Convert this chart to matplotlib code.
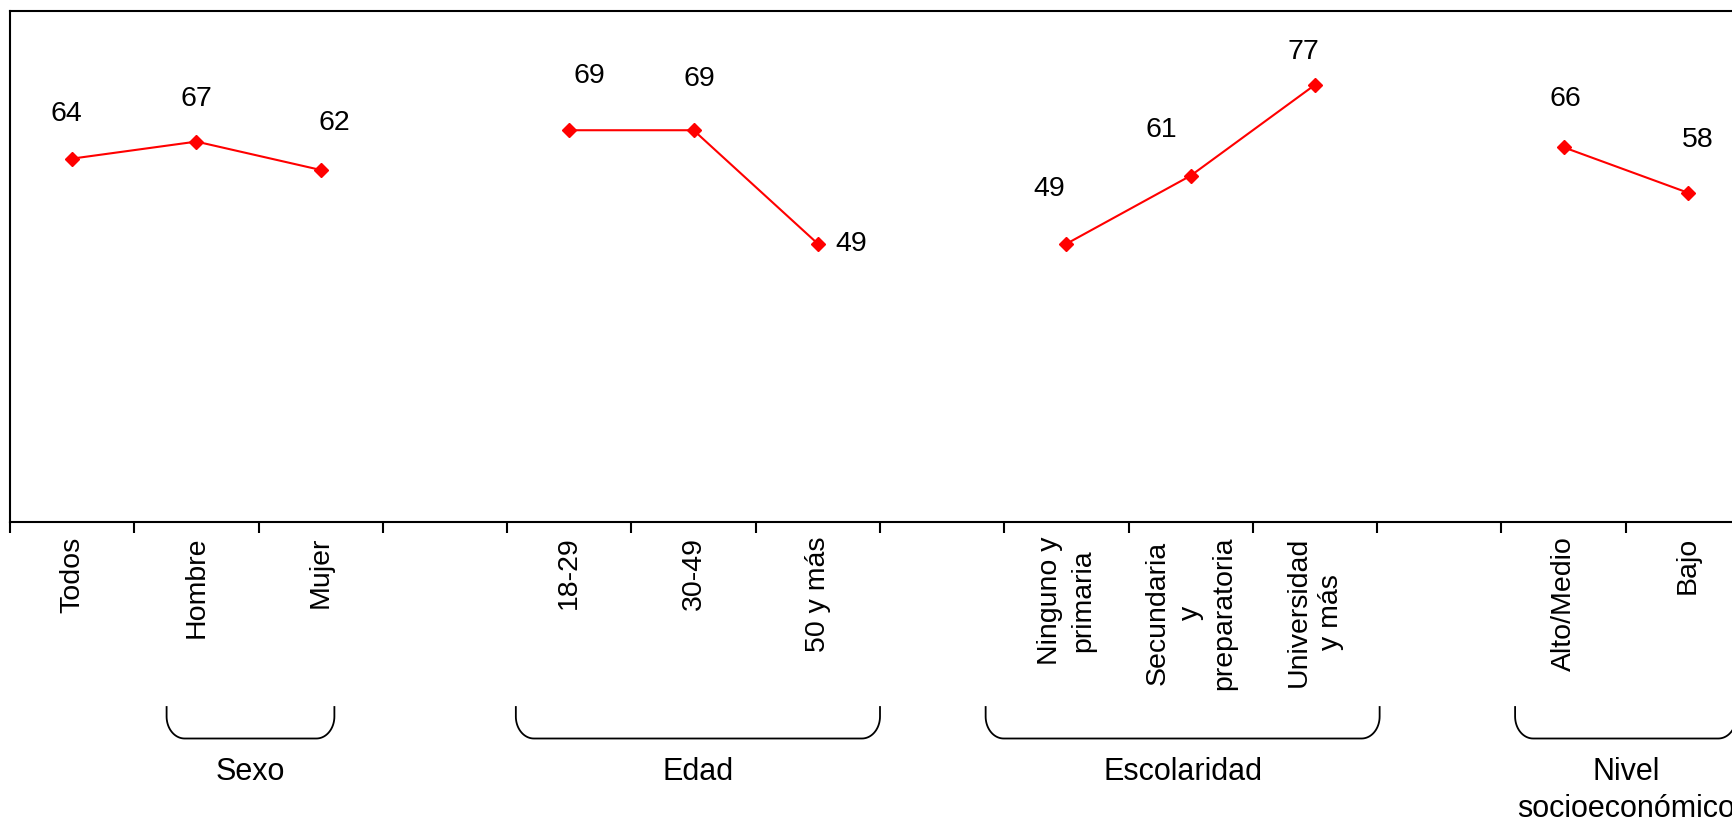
import numpy as np
import matplotlib
matplotlib.use("Agg")
import matplotlib.pyplot as plt
import matplotlib.transforms as mtransforms

plt.rcParams['font.family'] = ['Liberation Sans', 'DejaVu Sans']

# Datos
categorias = ["Todos", "Hombre", "Mujer", "",
              "18-29", "30-49", "50 y más", "",
              "Ninguno y\nprimaria", "Secundaria\ny\npreparatoria", "Universidad\ny más", "",
              "Alto/Medio", "Bajo"]
valores = [64, 67, 62, np.nan,
           69, 69, 49, np.nan,
           49, 61, 77, np.nan,
           66, 58]
grupos = ["Sexo", "Edad", "Escolaridad", "Nivel\nsocioeconómico"]
# tramo de cada llave, en unidades de categoria
tramos = [(0.76, 2.11), (3.57, 6.5), (7.35, 10.52), (11.61, 13.39)]

# desplazamiento de cada etiqueta de valor (pixeles, y hacia abajo)
offsets = [(-6, -45), (0, -43), (14, -47), None,
           (20, -54), (6, -51), (33, 0), None,
           (-17, -55), (-29, -46), (-12, -33), None,
           (2, -48), (10, -53)]

W, H = 1732, 818
fig = plt.figure(figsize=(W / 100, H / 100), dpi=100)
ax = fig.add_axes([10 / W, 1 - 522 / H, 1740 / W, 511 / H])

x = np.arange(len(categorias))
ax.plot(x, valores, color="red", lw=1.5, marker="D", ms=7, mfc="red", mec="red")

ax.set_xlim(-0.5, len(categorias) - 0.5)
ax.set_ylim(0, 90)
ax.set_yticks([])
ax.set_xticks(x)
ax.set_xticklabels(categorias, rotation=90, fontsize=20.5, ha="center", va="top",
                   multialignment="center", linespacing=1.35)
ax.set_xticks(np.arange(-0.5, len(categorias) + 0.5, 1), minor=True)
ax.tick_params(axis="x", which="major", length=0, pad=10.5)
ax.tick_params(axis="x", which="minor", length=8, width=1.5, direction="out")
for s in ax.spines.values():
    s.set_linewidth(1.5)

for i, v in enumerate(valores):
    if np.isnan(v):
        continue
    dx, dy = offsets[i]
    ax.annotate(f"{v:g}", (i, v), xytext=(dx, -dy), textcoords="offset pixels",
                ha="center", va="center", fontsize=20.5)

# Llaves de grupo
tr = mtransforms.blended_transform_factory(ax.transData, fig.transFigure)
y_top = 1 - 707 / H
y_bot = 1 - 738.5 / H
rx = 18 / 124.2
ry = 22 / H
t = np.linspace(0, np.pi / 2, 20)
for (a, b), nombre in zip(tramos, grupos):
    xl = a + rx - rx * np.cos(t)
    yl = y_bot + ry - ry * np.sin(t)
    xr = b - rx + rx * np.sin(t)
    yr = y_bot + ry - ry * np.cos(t)
    xs = np.concatenate([[a], xl, xr, [b]])
    ys = np.concatenate([[y_top], yl, yr, [y_top]])
    ax.plot(xs, ys, color="black", lw=1.3, transform=tr, clip_on=False)
    ax.text((a + b) / 2, 1 - 757 / H, nombre, transform=tr, ha="center", va="top",
            fontsize=22, multialignment="center", linespacing=1.3)

fig.savefig("out.png", dpi=100)
